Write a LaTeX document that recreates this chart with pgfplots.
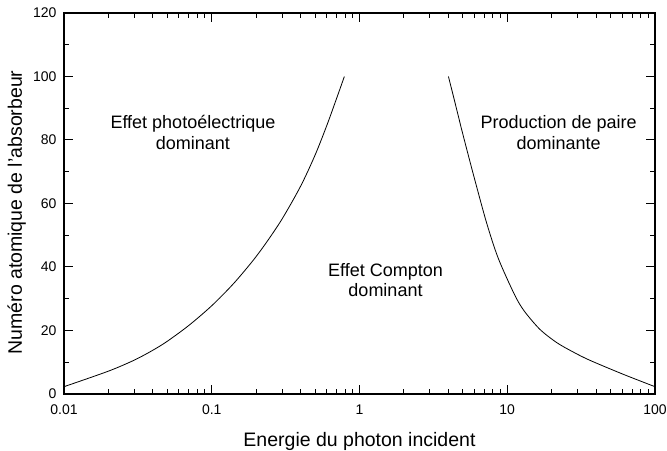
\documentclass[border=0pt]{standalone}
\usepackage{pgfplots}
\pgfplotsset{compat=1.18}
\usepackage{fontspec}
\setmainfont{Liberation Sans}
\usetikzlibrary{calc}
\begin{document}
\begin{tikzpicture}
\begin{axis}[
  scale only axis,
  width=591pt, height=381pt,
  xmode=log,
  xmin=0.01, xmax=100,
  ymin=0, ymax=120,
  xtick={0.01,0.1,1,10,100},
  xticklabels={0.01,0.1,1,10,100},
  ytick={0,20,40,60,80,100,120},
  minor y tick num=1,
  /pgf/number format/assume math mode=true,
  tick label style={font=\fontsize{14}{16}\selectfont},
  xticklabel style={yshift=-7pt},
  yticklabel style={xshift=-4pt},
  major tick length=9pt,
  minor tick length=5pt,
  tick style={black, line width=1pt},
  axis line style={black, line width=1.3pt},
  xlabel={Energie du photon incident},
  ylabel={Numéro atomique de l'absorbeur},
  every axis x label/.style={at={(axis description cs:0.5,0)}, anchor=base, yshift=-52.7pt, font=\fontsize{19.5}{22}\selectfont},
  every axis y label/.style={at={($(axis description cs:0,0.5)+(-42pt,-9pt)$)}, anchor=base, rotate=90, font=\fontsize{19.5}{22}\selectfont},
]
\addplot[black, line width=0.8pt, smooth] coordinates {
  (0.01,2.3) (0.02,7.2) (0.03,10.7) (0.04,13.8) (0.05,16.6) (0.07,21.6)
  (0.1,27.8) (0.14,34.7) (0.19,42.0) (0.235,47.8) (0.3,55.2) (0.4,65.5)
  (0.5,75.2) (0.6,84.5) (0.7,93.1) (0.79,100)
};
\addplot[black, line width=0.8pt, smooth] coordinates {
  (4.0,100) (4.45,91.4) (4.92,83.2) (5.5,74.5) (6.1,66.6) (7.26,53.8)
  (8.7,42.7) (11.2,31.3) (13,26.2) (16.6,20.4) (21.6,16.2)
  (28,13.2) (36.3,10.6) (61,6.2) (100,2.3)
};
\node[align=center, font=\fontsize{18}{20.5}\selectfont] at (axis cs:0.0746,82.4) {Effet photoélectrique\\dominant};
\node[align=center, font=\fontsize{18}{20.5}\selectfont] at (axis cs:1.5,35.8) {Effet Compton\\dominant};
\node[align=center, font=\fontsize{18}{20.5}\selectfont] at (axis cs:22.3,82.4) {Production de paire\\dominante};
\end{axis}
\pgfresetboundingbox
\path ($(current axis.south west)+(-64pt,-57pt)$) rectangle ($(current axis.north east)+(12pt,13pt)$);
\end{tikzpicture}
\end{document}
